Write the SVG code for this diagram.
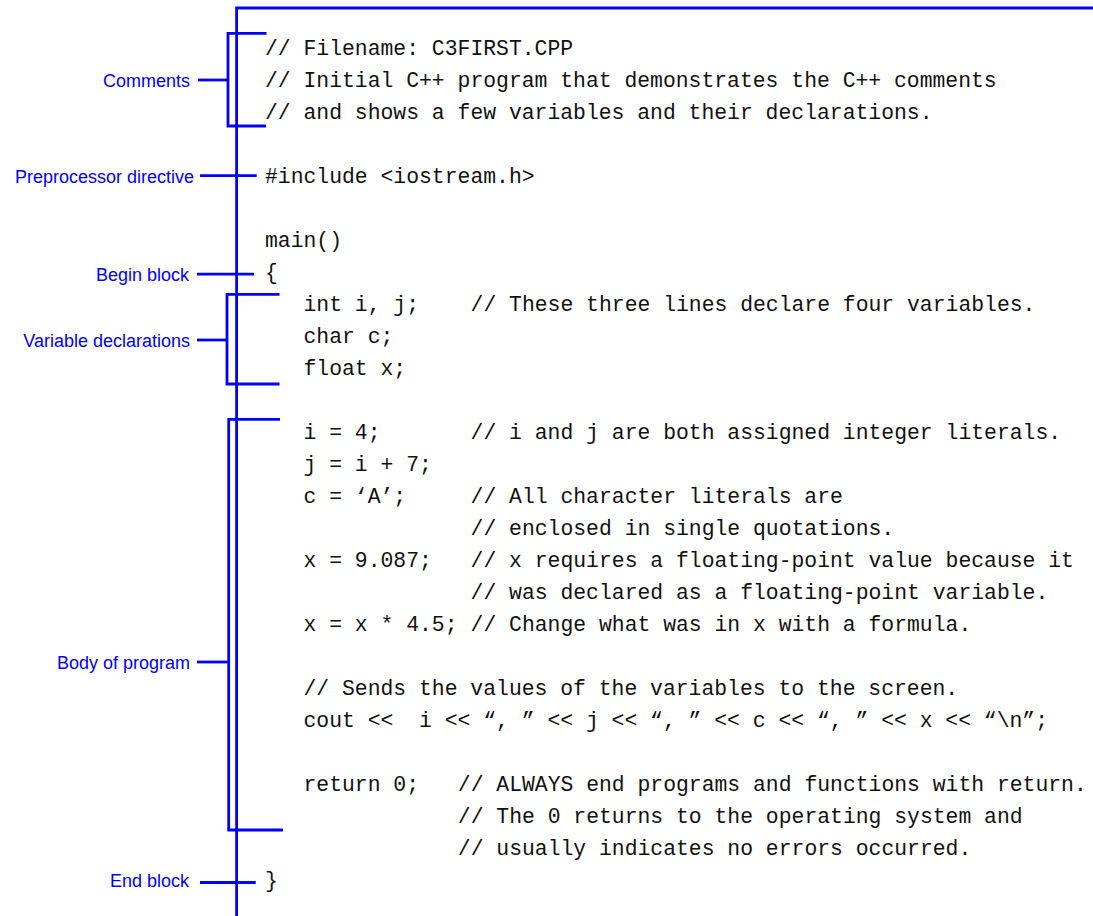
<svg xmlns="http://www.w3.org/2000/svg" width="1093" height="916" viewBox="0 0 1093 916">
<style>
.lbl{font-family:"Liberation Sans",Arial,sans-serif;font-size:18px;fill:#0000ff;text-anchor:end}
.code{font-family:"Liberation Mono","Courier New",monospace;font-size:21.4px;fill:#111;white-space:pre}
.ln{stroke:#0000ff;stroke-width:2.8;fill:none}
</style>
<rect width="1093" height="916" fill="#ffffff"/>
<g id="connectors">
<path class="ln" d="M236.6,916 V8 H1093"/>
<path class="ln" d="M266.5,33.3 H228 V126 H266"/>
<path class="ln" d="M198,80 H228"/>
<path class="ln" d="M200,175.7 H256.7"/>
<path class="ln" d="M197,274.2 H254"/>
<path class="ln" d="M279.5,294.3 H227 V384 H279.5"/>
<path class="ln" d="M197,340 H227"/>
<path class="ln" d="M280,419.3 H228.7 V830 H283"/>
<path class="ln" d="M197,662 H228.7"/>
<path class="ln" d="M200,882.5 H255.7"/>
</g>
<g id="label-comments"><text class="lbl" x="190" y="86.5">Comments</text></g>
<g id="label-preprocessor"><text class="lbl" x="194" y="182.5">Preprocessor directive</text></g>
<g id="label-begin"><text class="lbl" x="189" y="280.5">Begin block</text></g>
<g id="label-vardecl"><text class="lbl" x="190" y="346.5">Variable declarations</text></g>
<g id="label-body"><text class="lbl" x="190" y="668.5">Body of program</text></g>
<g id="label-end"><text class="lbl" x="189" y="887">End block</text></g>
<g id="code" class="code" xml:space="preserve">
<text class="code" x="265" y="55">// Filename: C3FIRST.CPP</text>
<text class="code" x="265" y="87">// Initial C++ program that demonstrates the C++ comments</text>
<text class="code" x="265" y="119">// and shows a few variables and their declarations.</text>
<text class="code" x="265" y="183">#include &lt;iostream.h&gt;</text>
<text class="code" x="265" y="247">main()</text>
<text class="code" x="265" y="279">{</text>
<text class="code" x="303.5" y="311">int i, j;</text>
<text class="code" x="470.6" y="311">// These three lines declare four variables.</text>
<text class="code" x="303.5" y="343">char c;</text>
<text class="code" x="303.5" y="375">float x;</text>
<text class="code" x="303.5" y="439">i = 4;</text>
<text class="code" x="470.6" y="439">// i and j are both assigned integer literals.</text>
<text class="code" x="303.5" y="471">j = i + 7;</text>
<text class="code" x="303.5" y="503">c = ‘A’;</text>
<text class="code" x="470.6" y="503">// All character literals are</text>
<text class="code" x="470.6" y="535">// enclosed in single quotations.</text>
<text class="code" x="303.5" y="567">x = 9.087;</text>
<text class="code" x="470.6" y="567">// x requires a floating-point value because it</text>
<text class="code" x="470.6" y="599">// was declared as a floating-point variable.</text>
<text class="code" x="303.5" y="631">x = x * 4.5;</text>
<text class="code" x="470.6" y="631">// Change what was in x with a formula.</text>
<text class="code" x="303.5" y="695">// Sends the values of the variables to the screen.</text>
<text class="code" x="303.5" y="727">cout &lt;&lt;  i &lt;&lt; “, ” &lt;&lt; j &lt;&lt; “, ” &lt;&lt; c &lt;&lt; “, ” &lt;&lt; x &lt;&lt; “\n”;</text>
<text class="code" x="303.5" y="791">return 0;</text>
<text class="code" x="457.8" y="791">// ALWAYS end programs and functions with return.</text>
<text class="code" x="457.8" y="823">// The 0 returns to the operating system and</text>
<text class="code" x="457.8" y="855">// usually indicates no errors occurred.</text>
<text class="code" x="265" y="887">}</text>
</g>
</svg>
